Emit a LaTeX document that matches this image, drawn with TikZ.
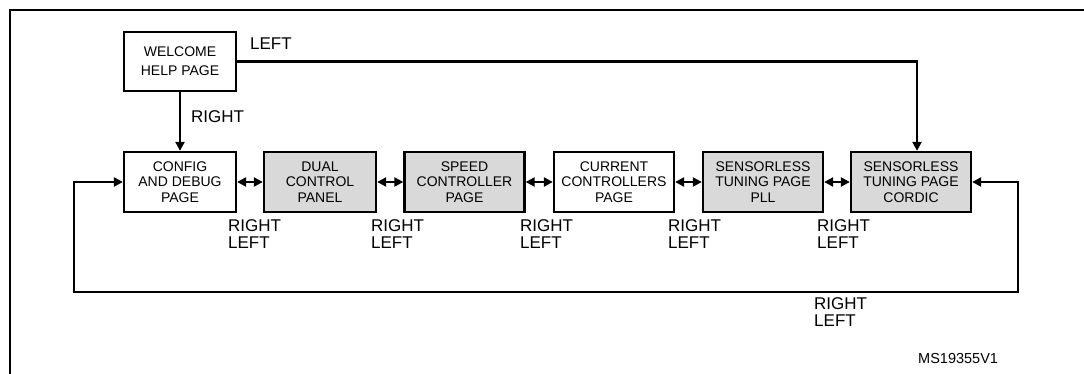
\documentclass[tikz,border=0pt]{standalone}
\usepackage{fontspec}
\setmainfont{Liberation Sans}
\usetikzlibrary{arrows.meta,positioning}
\definecolor{pagegrey}{HTML}{D9D9D9}
\tikzset{
  page/.style={draw,line width=2.3pt,fill=white,align=center,inner sep=0pt,minimum width=112pt,minimum height=60pt,font=\fontsize{14}{15.5}\selectfont},
  widepage/.style={page,minimum width=120pt},
  greypage/.style={widepage,fill=pagegrey},
  ar/.style={-{Triangle[length=9pt,width=9pt]},line width=2.2pt},
  dar/.style={{Triangle[length=9pt,width=9pt]}-{Triangle[length=9pt,width=9pt]},line width=2.2pt},
  lbl/.style={anchor=north west,inner sep=0pt,align=left,font=\fontsize{17}{17}\selectfont}
}
\begin{document}
\begin{tikzpicture}[x=1pt,y=-1pt]
\useasboundingbox (0,0) rectangle (1084,374);
\draw[line width=2.3pt] (10,374)--(10,10)--(1084,10);
% pages
\node[page,minimum height=59pt,font=\fontsize{14}{19}\selectfont] (welcome) at (180,61.5) {WELCOME\\HELP PAGE};
\node[page] (config) at (180,182) {CONFIG\\AND DEBUG\\PAGE};
\node[page,fill=pagegrey] (dual) at (320,182) {DUAL\\CONTROL\\PANEL};
\node[greypage] (speed) at (464.5,182) {SPEED\\CONTROLLER\\PAGE};
\node[widepage] (current) at (614,182) {CURRENT\\CONTROLLERS\\PAGE};
\node[greypage] (pll) at (763,182) {SENSORLESS\\TUNING PAGE\\PLL};
\node[greypage] (cordic) at (911,182) {SENSORLESS\\TUNING PAGE\\CORDIC};
% links
\draw[ar] (welcome.south)--(config.north);
\draw[ar] (welcome.east) -| ([xshift=6pt]cordic.north);
\draw[dar] (config)--(dual);
\draw[dar] (dual)--(speed);
\draw[dar] (speed)--(current);
\draw[dar] (current)--(pll);
\draw[dar] (pll)--(cordic);
\coordinate (loopL) at (74,292);
\coordinate (loopR) at (1018,292);
\draw[dar] (config.west) -| (loopL) -- (loopR) |- (cordic.east);
% labels
\node[lbl] (lleft) at (250,37.5) {LEFT};
\node[lbl] (lright) at (191,110) {RIGHT};
\foreach \x/\n in {228/a,371/b,520/c,668/d,817/e}{\node[lbl] (rl\n) at (\x,219) {RIGHT\\LEFT};}
\node[lbl] (rlloop) at (814,297) {RIGHT\\LEFT};
\node[lbl,font=\fontsize{14.5}{14.5}\selectfont] (code) at (918,353) {MS19355V1};
\end{tikzpicture}
\end{document}
